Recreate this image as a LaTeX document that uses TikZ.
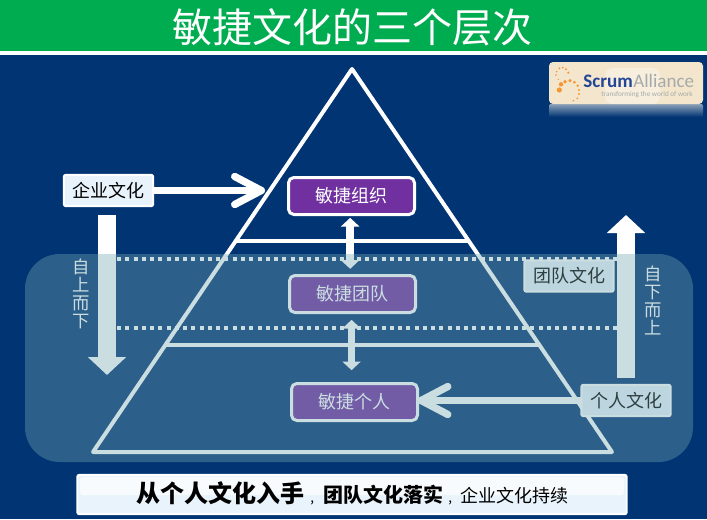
\documentclass[tikz,border=0pt]{standalone}
\usepackage{fontspec}
\setmainfont{Noto Sans CJK SC}
\newfontfamily\logofont{Carlito}
\usetikzlibrary{arrows.meta,calc}
\definecolor{navy}{RGB}{0,52,115}
\definecolor{hgreen}{RGB}{0,172,80}
\definecolor{tint}{RGB}{118,166,176}
\definecolor{purp}{RGB}{112,48,160}
\definecolor{palebox}{RGB}{232,243,251}
\definecolor{logobg}{RGB}{243,230,205}
\definecolor{logoor}{RGB}{245,150,50}
\definecolor{logobl}{RGB}{35,70,150}
\definecolor{logogr}{RGB}{165,170,170}
\tikzset{
  pyr/.style={draw=white,line width=3pt,line join=round,line cap=round},
  level/.style={draw=white,line width=2.7pt},
  dotline/.style={draw=white,line width=3pt,dash pattern=on 3pt off 3.2pt},
  purple box/.style={draw=white,fill=purp,line width=2.25pt,rounded corners=4pt,outer sep=0pt,inner sep=0pt,
    minimum width=94.5pt,minimum height=27.75pt,text=white,font=\fontsize{13.5}{13.5}\selectfont},
  label box/.style={draw=white,fill=palebox,line width=1.5pt,rounded corners=1.5pt,outer sep=0pt,inner sep=0pt,
    minimum width=67pt,minimum height=23.5pt,text=black,font=\fontsize{13.5}{13.5}\selectfont},
  link/.style={draw=white,line width=5.6pt,{Triangle[length=6.5pt,width=13.5pt]}-{Triangle[length=6.5pt,width=13.5pt]}},
  barb/.style={draw=white,line width=5.5pt,-{Straight Barb[length=20pt,width=21pt,round,line width=5.5pt]}},
  block/.style={draw=white,line width=13.5pt,-{Triangle[length=13.5pt,width=28pt]}},
  vtext/.style={text=white,align=center,inner sep=0pt,font=\fontsize{13}{13.5}\selectfont},
}
\begin{document}
\begin{tikzpicture}[x=0.75pt,y=-0.75pt]
\useasboundingbox (0,0) rectangle (707,519);
% background
\fill[navy] (0,0) rectangle (707,519);
\fill[hgreen] (0,0) rectangle (707,50.5);
\fill[white] (0,50.5) rectangle (707,55);
\node[text=white,inner sep=0pt,font=\fontsize{30}{30}\selectfont] (title) at (352.5,27) {敏捷文化的三个层次};
% logo
\shade[top color=navy!55!white!80!logobg,bottom color=navy,rounded corners=1pt] (549,104) rectangle (703,117);
\fill[logobg,rounded corners=3pt] (549,62) rectangle (703,104);
\fill[white,opacity=.35,rounded corners=6pt] (605,68) rectangle (660,104);
\foreach \a/\b/\r in {205/68/1.2,198/58/1.1,188/53/1,178/55/1,170/65/.9,168/75/.8,175/88/.7,
  178/120/2.6,183/103/2.2,195/95/1.9,210/92/1.7,223/97/1.5,233/107/1.3,237/120/1.2,237/132/1.1,232/145/1,220/152/.9}
  \fill[logoor] ({500+\a/3},{50+\b/3}) circle (\r);
\node[anchor=base west,inner sep=0pt,font=\logofont\bfseries\fontsize{14.3}{14.3}\selectfont,text=logobl] (scrum) at (583,87.5) {Scrum};
\node[anchor=base west,inner sep=0pt,font=\logofont\fontsize{14.3}{14.3}\selectfont,text=logogr] (alliance) at (scrum.base east) {Alliance};
\node[anchor=base west,inner sep=0pt,font=\logofont\fontsize{5.4}{5.4}\selectfont,text=logogr] (tag) at (601,96.5) {transforming the world of work};
% pyramid
\coordinate (apex) at (352,69);
\coordinate (baseL) at (93,452);
\coordinate (baseR) at (612,452);
\coordinate (upL) at (236,241);
\coordinate (upR) at (468,241);
\coordinate (loL) at (165,345);
\coordinate (loR) at (539,345);
\coordinate (dotAL) at (117,259);
\coordinate (dotAR) at (617,259);
\coordinate (dotBL) at (117,328);
\coordinate (dotBR) at (617,328);
\draw[pyr] (apex) -- (baseR) -- (baseL) -- cycle;
\draw[level] (upL) -- (upR);
\draw[level] (loL) -- (loR);
\draw[dotline] (dotAL) -- (dotAR);
\draw[dotline] (dotBL) -- (dotBR);
% boxes
\node[purple box] (org) at (351.5,196) {敏捷组织};
\node[purple box] (team) at (352.5,294) {敏捷团队};
\node[purple box] (pers) at (354.5,402) {敏捷个人};
\node[label box] (ent) at (108.5,190.5) {企业文化};
\node[label box] (tc) at (569,276) {团队文化};
\node[label box] (pc) at (626,400.5) {个人文化};
% connectors
\draw[link,shorten <=2.5pt,shorten >=5pt] ([xshift=-1pt]org.south) -- ([xshift=-1pt]org.south |- team.north);
\draw[link,shorten <=5.5pt,shorten >=10pt] ([xshift=-.7pt]team.south) -- ([xshift=-.7pt]team.south |- pers.north);
\coordinate (entTip) at (265,190.5);
\draw[barb] (ent.east) -- (entTip);
\draw[barb] (pc.west) -- (pc.west -| pers.east);
\coordinate (downTip) at (107,375);
\draw[block,shorten <=6.5pt] (downTip |- ent.south) -- (downTip);
\coordinate (upTip) at (626,215);
\draw[block,shorten <=5pt] (upTip |- pc.north) -- (upTip);
\node[vtext] (down) at (81,293.5) {自\\上\\而\\下};
\node[vtext] (up) at (653,300.5) {自\\下\\而\\上};
% translucent band
\fill[tint,opacity=.38,rounded corners=26pt] (25,254) rectangle (693,462);
% bottom bar
\node[draw=white,fill=palebox,line width=1.5pt,rounded corners=1.5pt,outer sep=0pt,inner sep=0pt,
  minimum width=412pt,minimum height=29.5pt] (bar) at (352,494.5) {};
\fill[white,opacity=.7,rounded corners=2pt] (80,477) rectangle (624,495);
\node[anchor=base west,inner sep=0pt,font=\bfseries\fontsize{18}{18}\selectfont] (t1) at (136,502) {从个人文化入手};
\node[anchor=base west,inner sep=0pt,font=\fontsize{10}{10}\selectfont] (c1) at (310,502) {,};
\node[anchor=base west,inner sep=0pt,font=\bfseries\fontsize{15}{15}\selectfont] (t2) at (323,502) {团队文化落实};
\node[anchor=base west,inner sep=0pt,font=\fontsize{10}{10}\selectfont] (c2) at (448,502) {,};
\node[anchor=base west,inner sep=0pt,font=\fontsize{13.5}{13.5}\selectfont] (t3) at (460,502) {企业文化持续};
\end{tikzpicture}
\end{document}
